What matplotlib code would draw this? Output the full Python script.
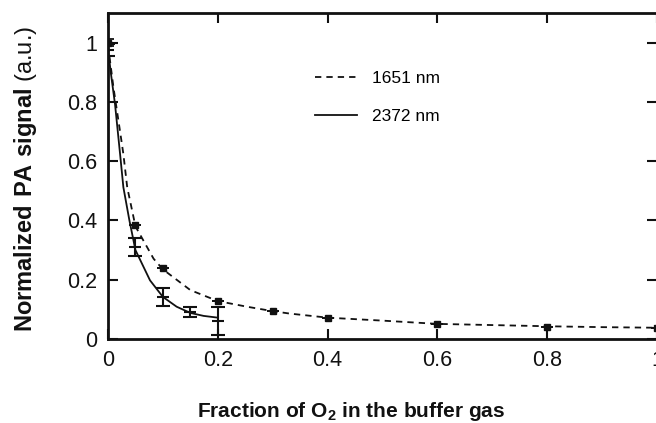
import matplotlib
matplotlib.use("Agg")
from matplotlib import pyplot as plt
from matplotlib.lines import Line2D

plt.rcParams["font.family"] = ["Liberation Sans", "DejaVu Sans"]
plt.rcParams["mathtext.fontset"] = "custom"
plt.rcParams["mathtext.rm"] = "Liberation Sans"
plt.rcParams["mathtext.bf"] = "Liberation Sans:bold"

# measured points, 1651 nm
x_1651 = [0, 0.05, 0.1, 0.2, 0.3, 0.4, 0.6, 0.8, 1.0]
y_1651 = [1.0, 0.383, 0.238, 0.128, 0.094, 0.072, 0.051, 0.042, 0.038]
e_1651 = [0.012, 0, 0, 0, 0, 0, 0, 0, 0]

# measured points, 2372 nm
x_2372 = [0, 0.05, 0.1, 0.15, 0.2]
y_2372 = [0.975, 0.31, 0.143, 0.092, 0.062]
e_2372 = [0.02, 0.03, 0.03, 0.017, 0.047]

# fit curves
fx_1651 = [0, 0.005, 0.01, 0.022, 0.028, 0.035, 0.05, 0.083, 0.1, 0.15,
           0.2, 0.253, 0.3, 0.33, 0.4, 0.5, 0.6, 0.7, 0.8, 0.9, 1.0]
fy_1651 = [0.99, 0.92, 0.848, 0.70, 0.624, 0.512, 0.38, 0.271, 0.235, 0.165,
           0.128, 0.109, 0.094, 0.086, 0.072, 0.062, 0.051, 0.047, 0.043, 0.040, 0.038]
fx_2372 = [0, 0.005, 0.0128, 0.022, 0.028, 0.039, 0.05, 0.0765, 0.1, 0.125,
           0.15, 0.174, 0.2]
fy_2372 = [0.98, 0.90, 0.792, 0.624, 0.512, 0.40, 0.30, 0.198, 0.142, 0.109,
           0.088, 0.078, 0.072]

ink = "#111111"

fig = plt.figure(figsize=(6.56, 4.23), dpi=100)
ax = fig.add_axes([108 / 656, 84 / 423, 549 / 656, 326 / 423])

ax.plot(fx_1651, fy_1651, linestyle=(0, (3.5, 2.8)), color=ink, lw=1.3)
ax.plot(fx_2372, fy_2372, linestyle="-", color=ink, lw=1.3)

ax.errorbar(x_1651, y_1651, yerr=e_1651, fmt="s", ms=4, color=ink,
            capsize=4, elinewidth=1.3, capthick=1.3)
ax.errorbar(x_2372, y_2372, yerr=e_2372, fmt="_", ms=8, mew=1.5, color=ink,
            capsize=5, elinewidth=1.5, capthick=1.5)

ax.set_xlim(0, 1)
ax.set_ylim(0, 1.1)
ax.set_xticks([0, 0.2, 0.4, 0.6, 0.8, 1.0])
ax.set_xticklabels(["0", "0.2", "0.4", "0.6", "0.8", "1"])
ax.set_yticks([0, 0.2, 0.4, 0.6, 0.8, 1.0])
ax.set_yticklabels(["0", "0.2", "0.4", "0.6", "0.8", "1"])
ax.tick_params(direction="in", length=7, width=1.5, labelsize=15.5,
               top=True, right=True, pad=8, colors=ink)
for s in ax.spines.values():
    s.set_linewidth(2)
    s.set_color(ink)

ax.set_xlabel(r"Fraction of O$_\mathbf{2}$ in the buffer gas",
              fontsize=15, fontweight="bold", color=ink)
ax.xaxis.set_label_coords(243 / 549, -61 / 326)
ax.set_ylabel(r"$\mathbf{Normalized\ PA\ signal}$ (a.u.)", fontsize=17, color=ink)
ax.yaxis.set_label_coords(-69 / 549, 0.49)

handles = [Line2D([], [], color=ink, lw=1.3, linestyle=(0, (3.5, 2.8))),
           Line2D([], [], color=ink, lw=1.3)]
ax.legend(handles, ["1651 nm", "2372 nm"], loc="upper left",
          bbox_to_anchor=(207 / 549, 1 - 58 / 326), frameon=False,
          fontsize=12.5, handlelength=2.4, handletextpad=0.9,
          labelspacing=1.33, borderpad=0, borderaxespad=0)

fig.savefig("out.png", dpi=100)
